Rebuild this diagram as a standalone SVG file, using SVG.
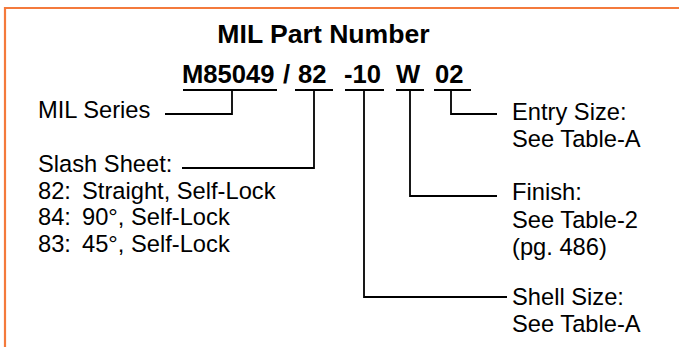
<svg xmlns="http://www.w3.org/2000/svg" width="679" height="347" viewBox="0 0 679 347">
<style>
.t{font-family:"Liberation Sans",Arial,sans-serif;font-size:23.7px;fill:#000}
.b{font-family:"Liberation Sans",Arial,sans-serif;font-weight:bold;fill:#000}
.c{fill:none;stroke:#000;stroke-width:1.8}
.u{fill:none;stroke:#000;stroke-width:2}
</style>
<rect width="679" height="347" fill="#fff"/>
<path d="M5,347 V8 H679" fill="none" stroke="#F47A3C" stroke-width="2.2"/>
<g id="title">
<text class="b" x="323.5" y="43" font-size="26.6" text-anchor="middle">MIL Part Number</text>
</g>
<g id="part-number">
<text class="b" font-size="25.6" x="182" y="83">M85049</text>
<text class="b" font-size="25.6" x="283" y="83">/</text>
<text class="b" font-size="25.6" x="298" y="83">82</text>
<text class="b" font-size="25.6" x="344" y="83">-10</text>
<text class="b" font-size="25.6" x="396" y="83">W</text>
<text class="b" font-size="25.6" x="435" y="83">02</text>
<path class="u" d="M183,90 H277 M295,90 H333 M345,90 H384 M396,90 H424 M434,90 H471"/>
</g>
<g id="mil-series">
<text class="t" x="38" y="118">MIL Series</text>
</g>
<g id="slash-sheet">
<text class="t" x="38" y="172">Slash Sheet:</text>
<text class="t" x="38" y="198.7">82:</text><text class="t" x="82" y="198.7">Straight, Self-Lock</text>
<text class="t" x="38" y="225.3">84:</text><text class="t" x="82" y="225.3">90°, Self-Lock</text>
<text class="t" x="38" y="252">83:</text><text class="t" x="82" y="252">45°, Self-Lock</text>
</g>
<g id="entry-size">
<text class="t" x="512" y="120">Entry Size:</text>
<text class="t" x="512" y="147">See Table-A</text>
</g>
<g id="finish">
<text class="t" x="512" y="200">Finish:</text>
<text class="t" x="512" y="227.5">See Table-2</text>
<text class="t" x="512" y="255">(pg. 486)</text>
</g>
<g id="shell-size">
<text class="t" x="512" y="305">Shell Size:</text>
<text class="t" x="512" y="332">See Table-A</text>
</g>
<g id="connectors">
<path class="c" d="M232,90 V114 H165"/>
<path class="c" d="M314,90 V168 H182"/>
<path class="c" d="M364,90 V297 H507"/>
<path class="c" d="M410,90 V196 H497"/>
<path class="c" d="M451,90 V114 H497"/>
</g>
</svg>
